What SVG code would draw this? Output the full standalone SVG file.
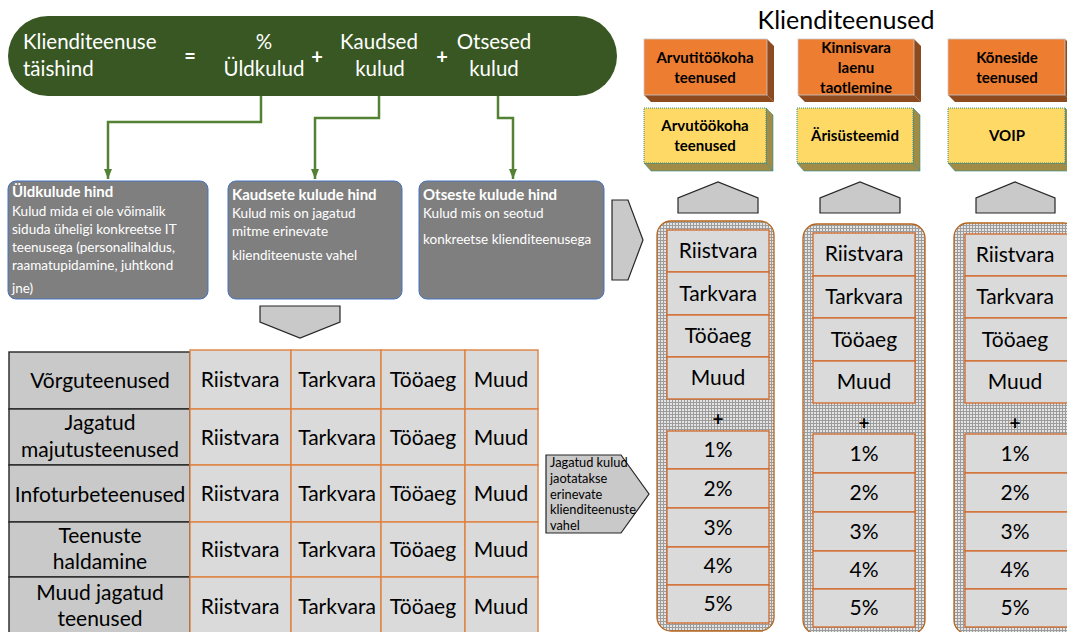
<svg xmlns="http://www.w3.org/2000/svg" width="1067" height="632" viewBox="0 0 1067 632">
  <style>
    text { font-family: Lato, "Liberation Sans", sans-serif; }
    .banner-t { fill: #ffffff; font-size: 20.5px; }
    .op { fill: #ffffff; font-size: 20px; font-weight: bold; }
    .mid { text-anchor: middle; }
    .box-title { fill: #ffffff; font-size: 15px; font-weight: bold; }
    .box-body { fill: #ffffff; font-size: 13.5px; }
    .gbox { fill: #7f7f7f; stroke: #4472c4; stroke-width: 1; }
    .wire { fill: none; stroke: #548235; stroke-width: 2.5; }
    .arrowshape { fill: #c9c9c9; stroke: #262626; stroke-width: 1.2; }
    .svc-o { fill: #ed7d31; stroke: #c8c8c8; stroke-width: 0.8; }
    .svc-o-side { fill: #8c4a1e; }
    .svc-y { fill: #ffd966; stroke: #2f8f8f; stroke-width: 1; stroke-dasharray: 1 1; }
    .svc-y-side { fill: #a08c46; stroke: #2f8f8f; stroke-width: 0.6; }
    .svc-t { fill: #000000; font-size: 15px; font-weight: bold; text-anchor: middle; }
    .cont { fill: url(#grid); stroke: #b5651d; stroke-width: 1.3; }
    .cell { fill: #dadada; stroke: #d2692a; stroke-width: 1.3; }
    .cell-t { fill: #000000; font-size: 21px; text-anchor: middle; }
    .row-h { fill: #c9c9c9; stroke: #262626; stroke-width: 1.4; }
    .tcell { fill: #dadada; stroke: #e0823f; stroke-width: 1.4; }
    .plus { fill: #000000; font-size: 19px; font-weight: bold; text-anchor: middle; }
    .note { fill: #000000; font-size: 12.8px; }
  </style>
  <defs>
    <pattern id="grid" width="3" height="3" patternUnits="userSpaceOnUse">
      <rect width="3" height="3" fill="#e4e4e4"/>
      <path d="M0 0.5H3M0.5 0V3" stroke="#9c9c9c" stroke-width="1"/>
    </pattern>
    <marker id="tip" viewBox="0 0 10 8" refX="10" refY="4" markerWidth="10" markerHeight="8" markerUnits="userSpaceOnUse" orient="auto">
      <path d="M0 0L10 4L0 8Z" fill="#548235"/>
    </marker>
  </defs>

  <!-- formula banner -->
  <g id="formula">
    <rect x="8" y="16" width="609" height="80" rx="40" fill="#385723"/>
    <text class="banner-t" x="23" y="49">Klienditeenuse</text>
    <text class="banner-t" x="23" y="76">täishind</text>
    <text class="op mid" x="190" y="63">=</text>
    <text class="banner-t mid" x="264" y="49">%</text>
    <text class="banner-t mid" x="264" y="76">Üldkulud</text>
    <text class="op mid" x="317" y="64">+</text>
    <text class="banner-t mid" x="379" y="49">Kaudsed</text>
    <text class="banner-t mid" x="380" y="76">kulud</text>
    <text class="op mid" x="442" y="64">+</text>
    <text class="banner-t mid" x="494" y="49">Otsesed</text>
    <text class="banner-t mid" x="494" y="76">kulud</text>
  </g>

  <!-- cost type boxes -->
  <g id="overhead">
    <rect class="gbox" x="8" y="181" width="200" height="118" rx="8"/>
    <text class="box-title" x="12" y="197">Üldkulude hind</text>
    <text class="box-body" x="12" y="216">Kulud mida ei ole võimalik</text>
    <text class="box-body" x="12" y="234">siduda üheligi konkreetse IT</text>
    <text class="box-body" x="12" y="252">teenusega (personalihaldus,</text>
    <text class="box-body" x="12" y="270">raamatupidamine, juhtkond</text>
    <text class="box-body" x="12" y="293">jne)</text>
  </g>
  <g id="indirect">
    <rect class="gbox" x="228" y="181" width="174" height="118" rx="8"/>
    <text class="box-title" x="232" y="200">Kaudsete kulude hind</text>
    <text class="box-body" x="232" y="218">Kulud mis on jagatud</text>
    <text class="box-body" x="232" y="236">mitme erinevate</text>
    <text class="box-body" x="232" y="260">klienditeenuste vahel</text>
  </g>
  <g id="direct">
    <rect class="gbox" x="419" y="181" width="185" height="118" rx="8"/>
    <text class="box-title" x="423" y="200">Otseste kulude hind</text>
    <text class="box-body" x="423" y="218">Kulud mis on seotud</text>
    <text class="box-body" x="423" y="244">konkreetse klienditeenusega</text>
  </g>

  <!-- connectors -->
  <g id="connectors">
    <path class="wire" d="M261 96V122H108V179" marker-end="url(#tip)"/>
    <path class="wire" d="M379 96V118H315V179" marker-end="url(#tip)"/>
    <path class="wire" d="M498 96V118H513V179" marker-end="url(#tip)"/>
  </g>

  <!-- block arrows -->
  <g id="down-arrow">
    <polygon class="arrowshape" points="260,306 340,306 340,322 300,338 260,322"/>
  </g>
  <g id="right-arrow">
    <polygon class="arrowshape" points="612,200 628,200 643,240 628,280 612,280"/>
  </g>
  <g id="share-arrow">
    <polygon class="arrowshape" points="546,455 621,455 649,494 621,533 546,533"/>
    <text class="note" x="550" y="467">Jagatud kulud</text>
    <text class="note" x="550" y="483">jaotatakse</text>
    <text class="note" x="550" y="499">erinevate</text>
    <text class="note" x="550" y="514">klienditeenuste</text>
    <text class="note" x="550" y="530">vahel</text>
  </g>

  <!-- shared services table -->
  <g id="shared-table">
    <rect class="row-h" x="9" y="352" width="181" height="57"/>
    <rect class="row-h" x="9" y="409" width="181" height="56"/>
    <rect class="row-h" x="9" y="465" width="181" height="57"/>
    <rect class="row-h" x="9" y="522" width="181" height="55"/>
    <rect class="row-h" x="9" y="577" width="181" height="60"/>
    <text class="cell-t" x="100" y="388">Võrguteenused</text>
    <text class="cell-t" x="100" y="430">Jagatud</text>
    <text class="cell-t" x="100" y="457">majutusteenused</text>
    <text class="cell-t" x="100" y="502">Infoturbeteenused</text>
    <text class="cell-t" x="100" y="543">Teenuste</text>
    <text class="cell-t" x="100" y="569">haldamine</text>
    <text class="cell-t" x="100" y="600">Muud jagatud</text>
    <text class="cell-t" x="100" y="626">teenused</text>

    <g id="row1">
      <rect class="tcell" x="190" y="350" width="101" height="59"/>
      <rect class="tcell" x="291" y="350" width="90" height="59"/>
      <rect class="tcell" x="381" y="350" width="84" height="59"/>
      <rect class="tcell" x="465" y="350" width="73" height="59"/>
      <text class="cell-t" x="240" y="387">Riistvara</text>
      <text class="cell-t" x="337" y="387">Tarkvara</text>
      <text class="cell-t" x="423" y="387">Tööaeg</text>
      <text class="cell-t" x="501" y="387">Muud</text>
    </g>
    <g id="row2">
      <rect class="tcell" x="190" y="409" width="101" height="56"/>
      <rect class="tcell" x="291" y="409" width="90" height="56"/>
      <rect class="tcell" x="381" y="409" width="84" height="56"/>
      <rect class="tcell" x="465" y="409" width="73" height="56"/>
      <text class="cell-t" x="240" y="445">Riistvara</text>
      <text class="cell-t" x="337" y="445">Tarkvara</text>
      <text class="cell-t" x="423" y="445">Tööaeg</text>
      <text class="cell-t" x="501" y="445">Muud</text>
    </g>
    <g id="row3">
      <rect class="tcell" x="190" y="465" width="101" height="57"/>
      <rect class="tcell" x="291" y="465" width="90" height="57"/>
      <rect class="tcell" x="381" y="465" width="84" height="57"/>
      <rect class="tcell" x="465" y="465" width="73" height="57"/>
      <text class="cell-t" x="240" y="501">Riistvara</text>
      <text class="cell-t" x="337" y="501">Tarkvara</text>
      <text class="cell-t" x="423" y="501">Tööaeg</text>
      <text class="cell-t" x="501" y="501">Muud</text>
    </g>
    <g id="row4">
      <rect class="tcell" x="190" y="522" width="101" height="55"/>
      <rect class="tcell" x="291" y="522" width="90" height="55"/>
      <rect class="tcell" x="381" y="522" width="84" height="55"/>
      <rect class="tcell" x="465" y="522" width="73" height="55"/>
      <text class="cell-t" x="240" y="557">Riistvara</text>
      <text class="cell-t" x="337" y="557">Tarkvara</text>
      <text class="cell-t" x="423" y="557">Tööaeg</text>
      <text class="cell-t" x="501" y="557">Muud</text>
    </g>
    <g id="row5">
      <rect class="tcell" x="190" y="577" width="101" height="60"/>
      <rect class="tcell" x="291" y="577" width="90" height="60"/>
      <rect class="tcell" x="381" y="577" width="84" height="60"/>
      <rect class="tcell" x="465" y="577" width="73" height="60"/>
      <text class="cell-t" x="240" y="614">Riistvara</text>
      <text class="cell-t" x="337" y="614">Tarkvara</text>
      <text class="cell-t" x="423" y="614">Tööaeg</text>
      <text class="cell-t" x="501" y="614">Muud</text>
    </g>
  </g>

  <!-- client services heading -->
  <text id="heading" x="846" y="29" font-size="25" text-anchor="middle" fill="#000">Klienditeenused</text>

  <!-- client service A -->
  <g id="service-a">
    <polygon class="svc-o-side" points="767,39 774,46 774,102 767,95"/>
    <polygon class="svc-o-side" points="644,95 767,95 774,102 651,102"/>
    <rect class="svc-o" x="644" y="39" width="123" height="56"/>
    <text class="svc-t" x="705" y="63">Arvutitöökoha</text>
    <text class="svc-t" x="705" y="83">teenused</text>
    <polygon class="svc-y-side" points="766,108 773,115 773,171 766,163"/>
    <polygon class="svc-y-side" points="644,163 766,163 773,171 651,171"/>
    <rect class="svc-y" x="644" y="108" width="122" height="55"/>
    <text class="svc-t" x="705" y="131">Arvutöökoha</text>
    <text class="svc-t" x="705" y="151">teenused</text>
    <polygon class="arrowshape" points="678,213 678,198 718,182 758,198 758,213"/>
    <rect class="cont" x="657" y="221" width="117" height="410" rx="14"/>
    <rect class="cell" x="667" y="230" width="102" height="42"/>
    <rect class="cell" x="667" y="272" width="102" height="43"/>
    <rect class="cell" x="667" y="315" width="102" height="42"/>
    <rect class="cell" x="667" y="357" width="102" height="42"/>
    <text class="cell-t" x="718" y="258">Riistvara</text>
    <text class="cell-t" x="718" y="301">Tarkvara</text>
    <text class="cell-t" x="718" y="343">Tööaeg</text>
    <text class="cell-t" x="718" y="385">Muud</text>
    <text class="plus" x="718" y="426">+</text>
    <rect class="cell" x="667" y="431" width="102" height="38"/>
    <rect class="cell" x="667" y="469" width="102" height="39"/>
    <rect class="cell" x="667" y="508" width="102" height="39"/>
    <rect class="cell" x="667" y="547" width="102" height="38"/>
    <rect class="cell" x="667" y="585" width="102" height="38"/>
    <text class="cell-t" x="718" y="457">1%</text>
    <text class="cell-t" x="718" y="496">2%</text>
    <text class="cell-t" x="718" y="535">3%</text>
    <text class="cell-t" x="718" y="573">4%</text>
    <text class="cell-t" x="718" y="611">5%</text>
  </g>

  <!-- client service B -->
  <g id="service-b">
    <polygon class="svc-o-side" points="914,39 921,46 921,102 914,95"/>
    <polygon class="svc-o-side" points="798,95 914,95 921,102 805,102"/>
    <rect class="svc-o" x="798" y="39" width="116" height="56"/>
    <text class="svc-t" x="856" y="53">Kinnisvara</text>
    <text class="svc-t" x="856" y="73">laenu</text>
    <text class="svc-t" x="856" y="93">taotlemine</text>
    <polygon class="svc-y-side" points="913,108 920,115 920,171 913,163"/>
    <polygon class="svc-y-side" points="797,163 913,163 920,171 804,171"/>
    <rect class="svc-y" x="797" y="108" width="116" height="55"/>
    <text class="svc-t" x="855" y="141">Ärisüsteemid</text>
    <polygon class="arrowshape" points="820,213 820,198 860,182 900,198 900,213"/>
    <rect class="cont" x="803" y="224" width="122" height="410" rx="14"/>
    <rect class="cell" x="813" y="233" width="102" height="43"/>
    <rect class="cell" x="813" y="276" width="102" height="42"/>
    <rect class="cell" x="813" y="318" width="102" height="43"/>
    <rect class="cell" x="813" y="361" width="102" height="42"/>
    <text class="cell-t" x="864" y="261">Riistvara</text>
    <text class="cell-t" x="864" y="304">Tarkvara</text>
    <text class="cell-t" x="864" y="347">Tööaeg</text>
    <text class="cell-t" x="864" y="389">Muud</text>
    <text class="plus" x="864" y="430">+</text>
    <rect class="cell" x="813" y="434" width="102" height="39"/>
    <rect class="cell" x="813" y="473" width="102" height="39"/>
    <rect class="cell" x="813" y="512" width="102" height="39"/>
    <rect class="cell" x="813" y="551" width="102" height="38"/>
    <rect class="cell" x="813" y="589" width="102" height="38"/>
    <text class="cell-t" x="864" y="461">1%</text>
    <text class="cell-t" x="864" y="500">2%</text>
    <text class="cell-t" x="864" y="539">3%</text>
    <text class="cell-t" x="864" y="577">4%</text>
    <text class="cell-t" x="864" y="615">5%</text>
  </g>

  <!-- client service C -->
  <g id="service-c">
    <polygon class="svc-o-side" points="1065,39 1072,46 1072,102 1065,95"/>
    <polygon class="svc-o-side" points="948,95 1065,95 1072,102 955,102"/>
    <rect class="svc-o" x="948" y="39" width="117" height="56"/>
    <text class="svc-t" x="1007" y="63">Kõneside</text>
    <text class="svc-t" x="1007" y="83">teenused</text>
    <polygon class="svc-y-side" points="1065,108 1072,115 1072,171 1065,163"/>
    <polygon class="svc-y-side" points="948,163 1065,163 1072,171 955,171"/>
    <rect class="svc-y" x="948" y="108" width="117" height="55"/>
    <text class="svc-t" x="1007" y="141">VOIP</text>
    <polygon class="arrowshape" points="976,213 976,198 1015,182 1055,198 1055,213"/>
    <rect class="cont" x="954" y="223" width="124" height="411" rx="14"/>
    <rect class="cell" x="965" y="234" width="104" height="42"/>
    <rect class="cell" x="965" y="276" width="104" height="42"/>
    <rect class="cell" x="965" y="318" width="104" height="43"/>
    <rect class="cell" x="965" y="361" width="104" height="42"/>
    <text class="cell-t" x="1015" y="262">Riistvara</text>
    <text class="cell-t" x="1015" y="304">Tarkvara</text>
    <text class="cell-t" x="1015" y="347">Tööaeg</text>
    <text class="cell-t" x="1015" y="389">Muud</text>
    <text class="plus" x="1015" y="430">+</text>
    <rect class="cell" x="965" y="434" width="104" height="39"/>
    <rect class="cell" x="965" y="473" width="104" height="39"/>
    <rect class="cell" x="965" y="512" width="104" height="39"/>
    <rect class="cell" x="965" y="551" width="104" height="38"/>
    <rect class="cell" x="965" y="589" width="104" height="38"/>
    <text class="cell-t" x="1015" y="461">1%</text>
    <text class="cell-t" x="1015" y="500">2%</text>
    <text class="cell-t" x="1015" y="539">3%</text>
    <text class="cell-t" x="1015" y="577">4%</text>
    <text class="cell-t" x="1015" y="615">5%</text>
  </g>
</svg>
